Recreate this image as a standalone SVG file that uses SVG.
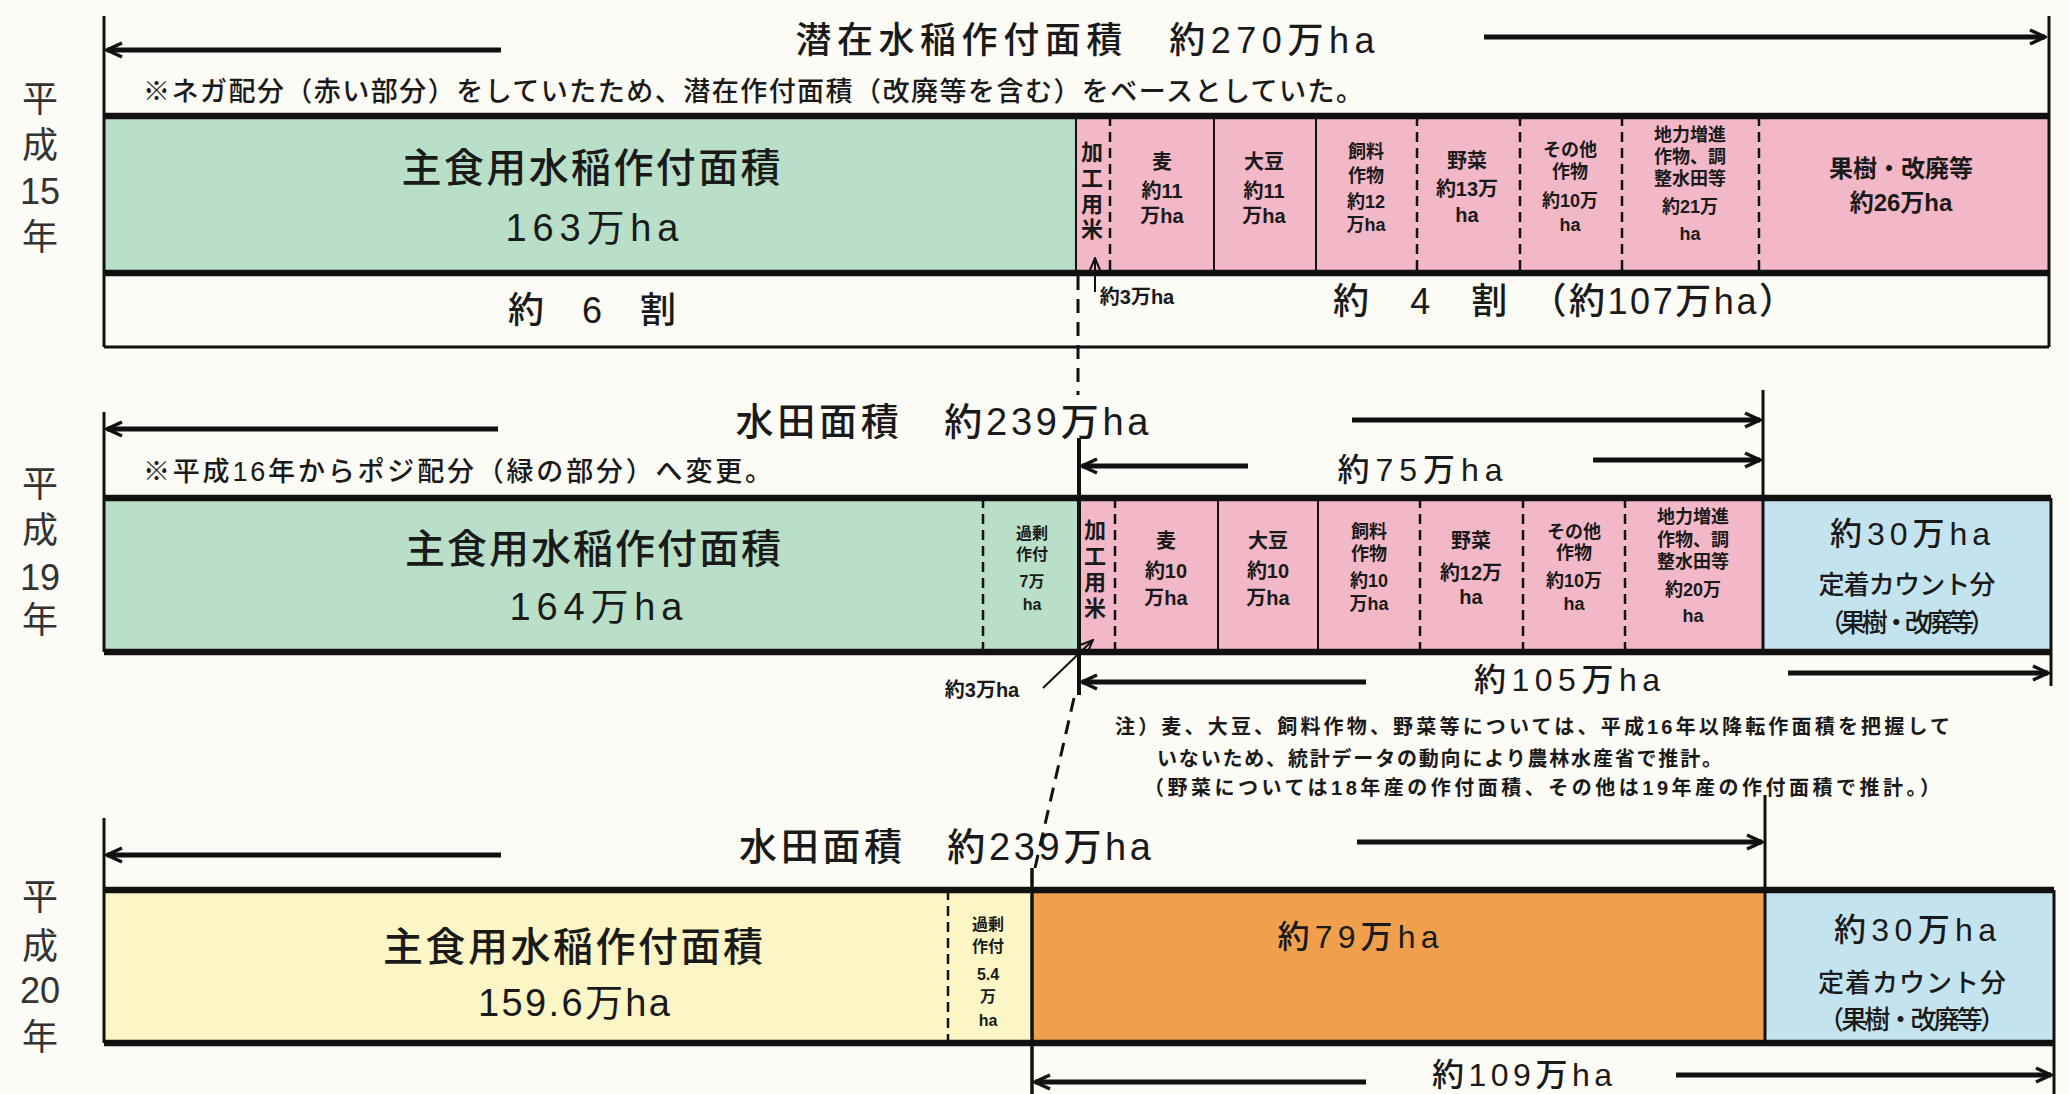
<svg xmlns="http://www.w3.org/2000/svg" width="2069" height="1094" viewBox="0 0 2069 1094">
<style>
.t{font-family:"Liberation Sans","Noto Sans CJK JP",sans-serif;fill:#1a1a1a;dominant-baseline:central;text-anchor:middle}
.st{text-anchor:start}
.b{font-weight:bold}
.m{font-weight:500}
.yr{font-size:36px;fill:#333}
.big{font-size:38px}
.mid{font-size:32px}
.note{font-size:27px}
.s22{font-size:22px;font-weight:bold}
.s20{font-size:20px;font-weight:bold}
.s18{font-size:18px;font-weight:bold}
.s16{font-size:16px;font-weight:bold}
.edge{stroke:#111;stroke-width:3;fill:none}
.thick{stroke:#111;stroke-width:6.5;fill:none}
.arr{stroke:#111;stroke-width:5;fill:none;marker-end:url(#ah)}
.thin{stroke:#111;stroke-width:2;fill:none;marker-end:url(#ahs)}
.dash{stroke:#111;stroke-width:2.5;stroke-dasharray:10 6;fill:none}
.ldash{stroke:#111;stroke-width:3;stroke-dasharray:14 9;fill:none}
.sol{stroke:#111;stroke-width:2;fill:none}
.green{fill:#b9dfc8}
.pink{fill:#f3b8c8}
.blue{fill:#c3e3ee}
.yellow{fill:#fcf6c6}
.orange{fill:#f0a04c}
</style>
<defs>
<marker id="ah" viewBox="0 0 20 18" refX="18" refY="9" markerWidth="20" markerHeight="18" markerUnits="userSpaceOnUse" orient="auto"><path d="M3,2 L18,9 L3,16" fill="none" stroke="#111" stroke-width="3.5"/></marker>
<marker id="ahs" viewBox="0 0 14 12" refX="13" refY="6" markerWidth="14" markerHeight="12" markerUnits="userSpaceOnUse" orient="auto"><path d="M1,1 L13,6 L1,11" fill="none" stroke="#111" stroke-width="2"/></marker>
</defs>
<rect width="2069" height="1094" fill="#fcfbf6"/>

<!-- ===== H15 ===== -->
<g id="year15">
<text class="t yr" x="40" y="99">平</text>
<text class="t yr" x="40" y="145">成</text>
<text class="t yr" x="40" y="191">15</text>
<text class="t yr" x="40" y="237">年</text>
</g>
<g id="h15-title">
<text class="t m" style="font-size:36px" x="1085" y="40" textLength="579">潜在水稲作付面積　約270万ha</text>
<text class="t st note m" x="143" y="92" textLength="1220">※ネガ配分（赤い部分）をしていたため、潜在作付面積（改廃等を含む）をベースとしていた。</text>
</g>
<g id="h15-bar">
<rect class="green" x="104" y="116" width="972" height="157"/>
<rect class="pink" x="1076" y="116" width="973" height="157"/>
<line class="sol" x1="1076" y1="116" x2="1076" y2="273"/>
<line class="dash" x1="1110" y1="116" x2="1110" y2="273"/>
<line class="sol" x1="1214" y1="116" x2="1214" y2="273"/>
<line class="sol" x1="1316" y1="116" x2="1316" y2="273"/>
<line class="dash" x1="1417" y1="116" x2="1417" y2="273"/>
<line class="dash" x1="1520" y1="116" x2="1520" y2="273"/>
<line class="dash" x1="1622" y1="116" x2="1622" y2="273"/>
<line class="dash" x1="1759" y1="116" x2="1759" y2="273"/>
<line class="thick" x1="104" y1="116" x2="2049" y2="116"/>
<line class="thick" x1="104" y1="273" x2="2049" y2="273"/>
<line class="edge" x1="104" y1="347" x2="2049" y2="347"/>
<line class="edge" x1="104" y1="16" x2="104" y2="347"/>
<line class="edge" x1="2049" y1="16" x2="2049" y2="347"/>
</g>
<g id="h15-labels">
<text class="t m" style="font-size:40px" x="591" y="168" textLength="379">主食用水稲作付面積</text>
<text class="t big" x="592" y="228" textLength="173">163万ha</text>
<text class="t s22" x="1092" y="152">加</text>
<text class="t s22" x="1092" y="178">工</text>
<text class="t s22" x="1092" y="204">用</text>
<text class="t s22" x="1092" y="229">米</text>
<text class="t s20" x="1162" y="162">麦</text>
<text class="t s20" x="1162" y="191">約11</text>
<text class="t s20" x="1162" y="216">万ha</text>
<text class="t s20" x="1264" y="162">大豆</text>
<text class="t s20" x="1264" y="191">約11</text>
<text class="t s20" x="1264" y="216">万ha</text>
<text class="t s18" x="1366" y="152">飼料</text>
<text class="t s18" x="1366" y="176">作物</text>
<text class="t s18" x="1366" y="202">約12</text>
<text class="t s18" x="1366" y="225">万ha</text>
<text class="t s20" x="1467" y="161">野菜</text>
<text class="t s20" x="1467" y="189">約13万</text>
<text class="t s20" x="1467" y="215">ha</text>
<text class="t s18" x="1570" y="150">その他</text>
<text class="t s18" x="1570" y="172">作物</text>
<text class="t s18" x="1570" y="201">約10万</text>
<text class="t s18" x="1570" y="225">ha</text>
<text class="t s18" x="1690" y="135">地力増進</text>
<text class="t s18" x="1690" y="157">作物、調</text>
<text class="t s18" x="1690" y="179">整水田等</text>
<text class="t s18" x="1690" y="207">約21万</text>
<text class="t s18" x="1690" y="234">ha</text>
<text class="t b" style="font-size:24px" x="1901" y="168">果樹・改廃等</text>
<text class="t b" style="font-size:24px" x="1901" y="202">約26万ha</text>
<text class="t m" style="font-size:36px" x="592" y="310" textLength="168">約　6　割</text>
<text class="t m" style="font-size:36px" x="1564" y="301" textLength="462">約　4　割　（約107万ha）</text>
<text class="t s20" x="1137" y="297">約3万ha</text>
</g>

<!-- ===== H19 ===== -->
<g id="year19">
<text class="t yr" x="40" y="484">平</text>
<text class="t yr" x="40" y="530">成</text>
<text class="t yr" x="40" y="577">19</text>
<text class="t yr" x="40" y="620">年</text>
</g>
<g id="h19-title">
<text class="t big m" x="942" y="422" textLength="413">水田面積　約239万ha</text>
<text class="t st note m" x="143" y="472" textLength="629">※平成16年からポジ配分（緑の部分）へ変更。</text>
<text class="t mid m" x="1420" y="470" textLength="165">約75万ha</text>
</g>
<g id="h19-bar">
<rect class="green" x="104" y="498" width="975" height="154"/>
<rect class="pink" x="1079" y="498" width="684" height="154"/>
<rect class="blue" x="1763" y="498" width="288" height="154"/>
<line class="dash" x1="983" y1="498" x2="983" y2="652"/>
<line class="dash" x1="1115" y1="498" x2="1115" y2="652"/>
<line class="sol" x1="1218" y1="498" x2="1218" y2="652"/>
<line class="sol" x1="1318" y1="498" x2="1318" y2="652"/>
<line class="dash" x1="1420" y1="498" x2="1420" y2="652"/>
<line class="dash" x1="1523" y1="498" x2="1523" y2="652"/>
<line class="dash" x1="1625" y1="498" x2="1625" y2="652"/>
<line class="thick" x1="104" y1="498" x2="2051" y2="498"/>
<line class="thick" x1="104" y1="652" x2="2051" y2="652"/>
<line class="edge" x1="104" y1="412" x2="104" y2="652"/>
<line class="edge" x1="1763" y1="390" x2="1763" y2="652"/>
<line class="edge" x1="2051" y1="498" x2="2051" y2="686"/>
<line class="edge" style="stroke-width:4" x1="1079" y1="438" x2="1079" y2="695"/>
</g>
<g id="h19-labels">
<text class="t m" style="font-size:40px" x="593" y="549" textLength="376">主食用水稲作付面積</text>
<text class="t big" x="596" y="607" textLength="173">164万ha</text>
<text class="t s16" x="1032" y="533">過剰</text>
<text class="t s16" x="1032" y="554">作付</text>
<text class="t s16" x="1032" y="581">7万</text>
<text class="t s16" x="1032" y="604">ha</text>
<text class="t s22" x="1095" y="530">加</text>
<text class="t s22" x="1095" y="556">工</text>
<text class="t s22" x="1095" y="582">用</text>
<text class="t s22" x="1095" y="608">米</text>
<text class="t s20" x="1166" y="541">麦</text>
<text class="t s20" x="1166" y="571">約10</text>
<text class="t s20" x="1166" y="598">万ha</text>
<text class="t s20" x="1268" y="541">大豆</text>
<text class="t s20" x="1268" y="571">約10</text>
<text class="t s20" x="1268" y="598">万ha</text>
<text class="t s18" x="1369" y="532">飼料</text>
<text class="t s18" x="1369" y="554">作物</text>
<text class="t s18" x="1369" y="581">約10</text>
<text class="t s18" x="1369" y="604">万ha</text>
<text class="t s20" x="1471" y="541">野菜</text>
<text class="t s20" x="1471" y="573">約12万</text>
<text class="t s20" x="1471" y="597">ha</text>
<text class="t s18" x="1574" y="532">その他</text>
<text class="t s18" x="1574" y="553">作物</text>
<text class="t s18" x="1574" y="581">約10万</text>
<text class="t s18" x="1574" y="604">ha</text>
<text class="t s18" x="1693" y="517">地力増進</text>
<text class="t s18" x="1693" y="540">作物、調</text>
<text class="t s18" x="1693" y="562">整水田等</text>
<text class="t s18" x="1693" y="590">約20万</text>
<text class="t s18" x="1693" y="616">ha</text>
<text class="t mid m" x="1910" y="534" textLength="160">約30万ha</text>
<text class="t m" style="font-size:26px" x="1907" y="585" textLength="177">定着カウント分</text>
<text class="t m" style="font-size:26px" x="1907" y="623" textLength="177">（果樹・改廃等）</text>
<text class="t s20" x="982" y="690">約3万ha</text>
<text class="t mid m" x="1567" y="680" textLength="186">約105万ha</text>
</g>
<g id="note">
<text class="t st b" style="font-size:20px" x="1115" y="727" textLength="835">注）麦、大豆、飼料作物、野菜等については、平成16年以降転作面積を把握して</text>
<text class="t st b" style="font-size:20px" x="1157" y="759" textLength="565">いないため、統計データの動向により農林水産省で推計。</text>
<text class="t st b" style="font-size:20px" x="1144" y="788" textLength="796">（野菜については18年産の作付面積、その他は19年産の作付面積で推計。）</text>
</g>

<!-- ===== H20 ===== -->
<g id="year20">
<text class="t yr" x="40" y="897">平</text>
<text class="t yr" x="40" y="946">成</text>
<text class="t yr" x="40" y="990">20</text>
<text class="t yr" x="40" y="1037">年</text>
</g>
<g id="h20-title">
<text class="t big m" x="945" y="847" textLength="412">水田面積　約239万ha</text>
</g>
<g id="h20-bar">
<rect class="yellow" x="104" y="890" width="928" height="153"/>
<rect class="orange" x="1032" y="890" width="733" height="153"/>
<rect class="blue" x="1765" y="890" width="289" height="153"/>
<line class="dash" x1="948" y1="890" x2="948" y2="1043"/>
<line class="thick" x1="104" y1="890" x2="2054" y2="890"/>
<line class="thick" x1="104" y1="1043" x2="2054" y2="1043"/>
<line class="edge" x1="104" y1="818" x2="104" y2="1043"/>
<line class="edge" x1="1765" y1="795" x2="1765" y2="1043"/>
<line class="edge" x1="2054" y1="890" x2="2054" y2="1094"/>
<line class="edge" style="stroke-width:3.5" x1="1032" y1="868" x2="1032" y2="1094"/>
</g>
<g id="h20-labels">
<text class="t m" style="font-size:40px" x="573" y="947" textLength="380">主食用水稲作付面積</text>
<text class="t big" x="574" y="1003" textLength="192">159.6万ha</text>
<text class="t s16" x="988" y="924">過剰</text>
<text class="t s16" x="988" y="946">作付</text>
<text class="t s16" x="988" y="974">5.4</text>
<text class="t s16" x="988" y="996">万</text>
<text class="t s16" x="988" y="1020">ha</text>
<text class="t mid m" x="1358" y="937" textLength="161">約79万ha</text>
<text class="t mid m" x="1915" y="930" textLength="162">約30万ha</text>
<text class="t m" style="font-size:26px" x="1912" y="983" textLength="188">定着カウント分</text>
<text class="t m" style="font-size:26px" x="1912" y="1020" textLength="188">（果樹・改廃等）</text>
<text class="t mid m" x="1522" y="1075" textLength="180">約109万ha</text>
</g>

<g id="connectors">
<line class="arr" x1="501" y1="50" x2="107" y2="50"/>
<line class="arr" x1="1484" y1="37" x2="2045" y2="37"/>
<line class="thin" x1="1095" y1="292" x2="1095" y2="258"/>
<line class="ldash" x1="1078" y1="276" x2="1078" y2="395"/>
<line class="arr" x1="498" y1="429" x2="107" y2="429"/>
<line class="arr" x1="1352" y1="420" x2="1760" y2="420"/>
<line class="arr" x1="1248" y1="466" x2="1082" y2="466"/>
<line class="arr" x1="1593" y1="460" x2="1760" y2="460"/>
<line class="thin" x1="1043" y1="688" x2="1093" y2="640"/>
<line class="ldash" x1="1074" y1="698" x2="1035" y2="868"/>
<line class="arr" x1="1366" y1="682" x2="1082" y2="682"/>
<line class="arr" x1="1788" y1="673" x2="2048" y2="673"/>
<line class="arr" x1="501" y1="855" x2="107" y2="855"/>
<line class="arr" x1="1357" y1="842" x2="1762" y2="842"/>
<line class="arr" x1="1366" y1="1082" x2="1035" y2="1082"/>
<line class="arr" x1="1676" y1="1075" x2="2051" y2="1075"/>
</g>
</svg>
